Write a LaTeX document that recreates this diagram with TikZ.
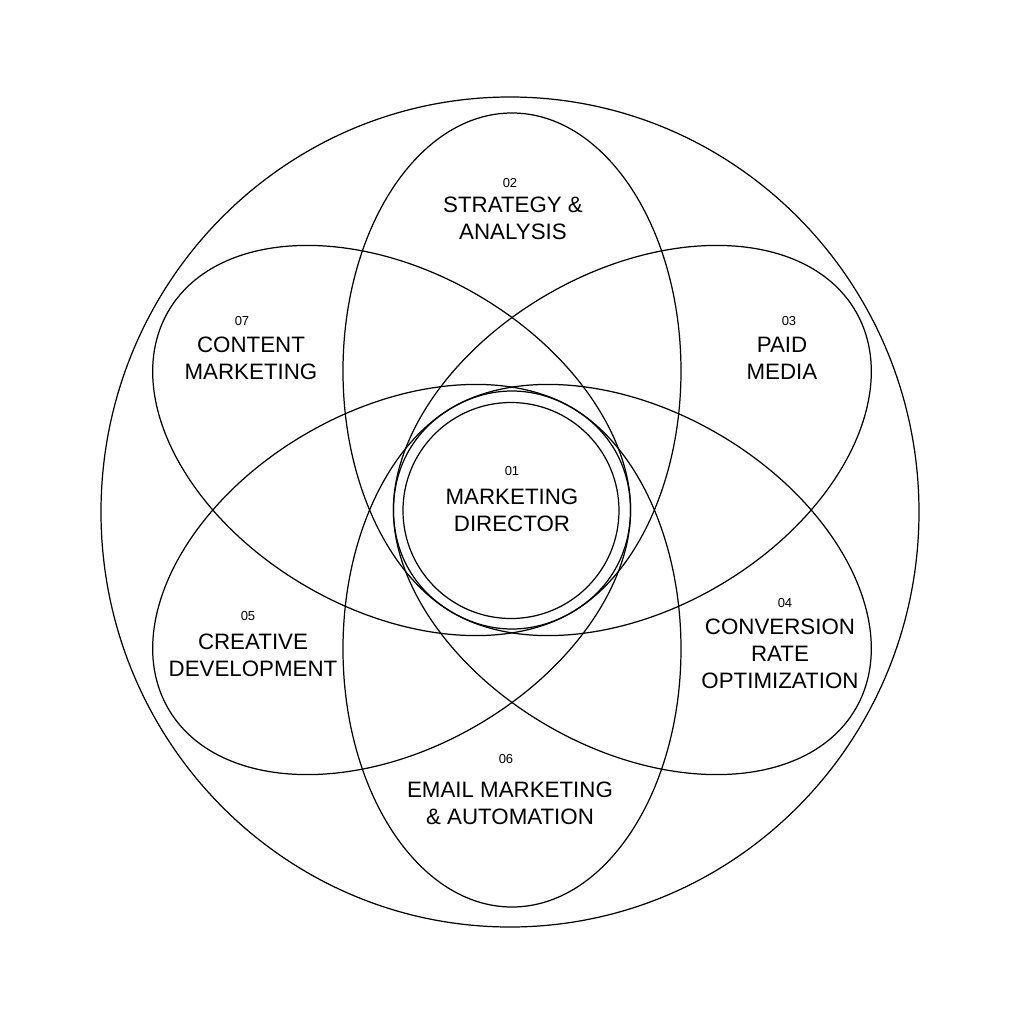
\documentclass[tikz,border=0pt]{standalone}
\usepackage{fontspec}
\setmainfont{Liberation Sans}
\begin{document}
\begin{tikzpicture}[line cap=round,line join=round,x=1.0cm,y=1.0cm,
	ring/.style={draw=black,line width=0.7pt},
	petal/.style={draw=black,line width=0.7pt},
	lbl/.style={align=center,inner sep=0pt,font=\fontsize{12.7}{15.3}\selectfont},
	num/.style={anchor=base,inner sep=0pt,font=\fontsize{7.4}{8}\selectfont}]
			\fill[white] (-10.24,-10.24) rectangle (10.24,10.24);
			\useasboundingbox (-10.24,-10.24) rectangle (10.24,10.24);
			\coordinate (c) at (0,0.04);
			% outer ring and centre
			\draw[ring] (-0.04,0) ellipse [x radius=8.18, y radius=8.30];
			\draw[ring] (-0.02,0.03) circle [radius=2.16];
			% six petals
			\draw[petal, shift={(c)}, rotate=90] (2.78,0) ellipse [x radius=5.16, y radius=3.38];
			\draw[petal, shift={(c)}, rotate=30] (2.78,0) ellipse [x radius=5.16, y radius=3.38];
			\draw[petal, shift={(c)}, rotate=-30] (2.78,0) ellipse [x radius=5.16, y radius=3.38];
			\draw[petal, shift={(c)}, rotate=-90] (2.78,0) ellipse [x radius=5.16, y radius=3.38];
			\draw[petal, shift={(c)}, rotate=-150] (2.78,0) ellipse [x radius=5.16, y radius=3.38];
			\draw[petal, shift={(c)}, rotate=150] (2.78,0) ellipse [x radius=5.16, y radius=3.38];
			% labels
			\node[num] (n01) at (0,0.74) {01};
			\node[lbl] (director) at (0,0.03) {MARKETING\\DIRECTOR};
			\node[num] (n02) at (-0.04,6.50) {02};
			\node[lbl] (strategy) at (0.02,5.87) {STRATEGY \&\\ANALYSIS};
			\node[num] (n03) at (5.54,3.74) {03};
			\node[lbl] (paid) at (5.40,3.07) {PAID\\MEDIA};
			\node[num] (n04) at (5.46,-1.90) {04};
			\node[lbl] (conversion) at (5.36,-2.84) {CONVERSION\\RATE\\OPTIMIZATION};
			\node[num] (n05) at (-5.28,-2.16) {05};
			\node[lbl] (creative) at (-5.18,-2.87) {CREATIVE\\DEVELOPMENT};
			\node[num] (n06) at (-0.12,-5.02) {06};
			\node[lbl] (email) at (-0.04,-5.83) {EMAIL MARKETING\\\& AUTOMATION};
			\node[num] (n07) at (-5.40,3.74) {07};
			\node[lbl] (content) at (-5.22,3.07) {CONTENT\\MARKETING};
		\end{tikzpicture}
\end{document}
